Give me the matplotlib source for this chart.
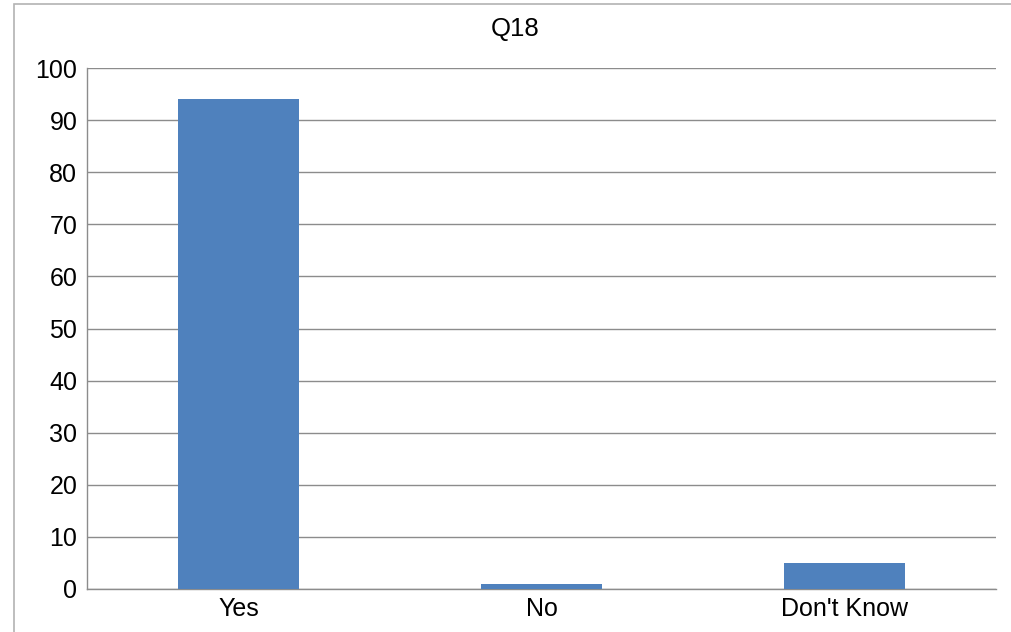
import matplotlib
matplotlib.use("Agg")
import matplotlib.pyplot as plt
from matplotlib.patches import Rectangle

# chart data
title = "Q18"
categories = ["Yes", "No", "Don't Know"]
values = [94, 1, 5]
yticks = list(range(0, 101, 10))

W, H = 1012, 632
fig = plt.figure(figsize=(W / 100, H / 100), dpi=100)
plt.rcParams['font.family'] = ['Liberation Sans', 'DejaVu Sans']

# outer chart frame (runs off the right and bottom edges)
fig.patches.append(Rectangle((14 / W, -0.1), 1.2, 1 - 4 / H + 0.1,
                             transform=fig.transFigure, fill=False,
                             edgecolor="#b3b3b3", linewidth=1.2))

# plot area in pixels: x 87..996, y 68..589
ax = fig.add_axes([87 / W, 1 - 589 / H, (996 - 87) / W, (589 - 68) / H])
x = range(len(categories))
ax.bar(x, values, width=0.4, color="#4f81bd", zorder=3)

ax.set_xlim(-0.5, len(categories) - 0.5)
ax.set_ylim(0, 100)
ax.set_yticks(yticks)
ax.set_xticks(list(x))
ax.set_xticklabels(categories)
ax.tick_params(axis="both", length=0, labelsize=18, colors="black")
ax.tick_params(axis="y", pad=7)
ax.tick_params(axis="x", pad=6)
ax.grid(axis="y", color="#8c8c8c", linewidth=1.0, zorder=0)

for side in ["top", "right"]:
    ax.spines[side].set_visible(False)
for side in ["left", "bottom"]:
    ax.spines[side].set_color("#8c8c8c")
    ax.spines[side].set_linewidth(1.0)

fig.text(515 / W, 1 - 29 / H, title, ha="center", va="center", fontsize=18.5)

fig.savefig("out.png", dpi=100)
